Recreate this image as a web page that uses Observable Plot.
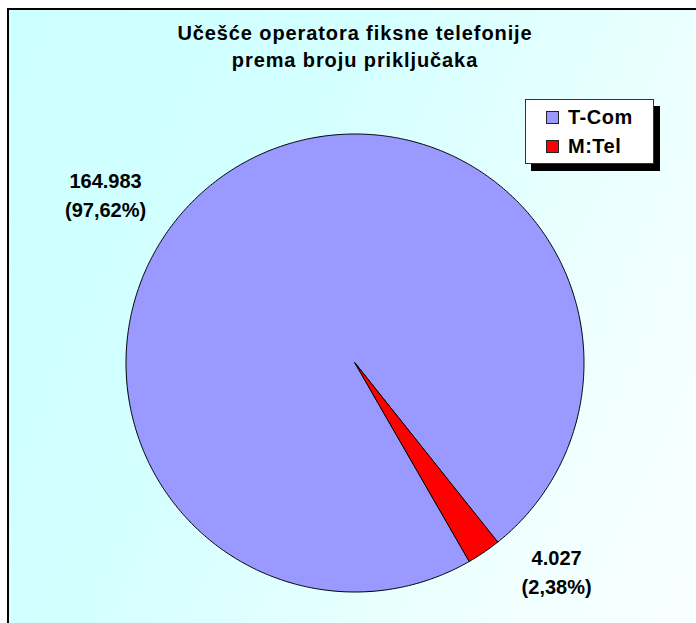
<!DOCTYPE html>
<html><head><meta charset="utf-8">
<script src="https://cdn.jsdelivr.net/npm/d3@7"></script>
<script src="https://cdn.jsdelivr.net/npm/@observablehq/plot@0.6"></script>
<style>
html,body{margin:0;padding:0;background:#fff;}
body{width:696px;height:623px;overflow:hidden;position:relative;font-family:"Liberation Sans",Arial,sans-serif;}
#frame{position:absolute;left:7px;top:8px;width:720px;height:640px;border:2px solid #000;
  background:linear-gradient(115deg,#ccffff 0%,#d4ffff 35%,#f0ffff 75%,#fbffff 100%);}
#chart{position:absolute;left:0;top:0;}
#title{position:absolute;left:0;top:20px;width:710px;text-align:center;font-weight:bold;font-size:20px;line-height:27px;letter-spacing:0.9px;color:#000;}
#legend{position:absolute;left:525px;top:99px;width:127px;height:63px;background:#fff;border:1px solid #333;box-shadow:6px 7px 0 #000;}
.row{position:absolute;left:20px;height:24px;display:flex;align-items:center;font-weight:bold;font-size:20px;letter-spacing:0.5px;}
.sw{width:11px;height:11px;border:1px solid #222;margin-right:9px;}
</style></head>
<body>
<div id="frame"></div>
<div id="chart"></div>
<div id="title">Učešće operatora fiksne telefonije<br>prema broju priključaka</div>
<div id="legend"></div>
<script>
const operators = ["T-Com", "M:Tel"];
const connections = [164983, 4027];
const sliceColors = ["#9999FF", "#FF0000"];

// layout constants
const W = 696, H = 623, cx = 354.5, cy = 362.5, R = 229;
const firstSliceAngle = 150; // degrees, clockwise from 12 o'clock
const labelPlacement = {"T-Com": {angle: 304.2, dist: 1.317}, "M:Tel": {angle: 135.8, dist: 1.263}};

const loc = d3.formatLocale({decimal: ",", thousands: ".", grouping: [3], currency: ["", ""]});
const fmtNum = loc.format(",d");
const fmtPct = loc.format(".2f");

const total = d3.sum(connections);
let acc = firstSliceAngle;
const slices = operators.map((name, i) => {
  const span = connections[i] / total * 360;
  const s = {name, value: connections[i], a0: acc, a1: acc + span};
  acc += span;
  return s;
});
const rad = d => d * Math.PI / 180;
const points = [];
for (const s of slices) {
  points.push({name: s.name, x: 0, y: 0});
  const n = Math.max(2, Math.ceil((s.a1 - s.a0) / 0.5));
  for (let k = 0; k <= n; k++) {
    const a = rad(s.a0 + (s.a1 - s.a0) * k / n);
    points.push({name: s.name, x: Math.sin(a), y: Math.cos(a)});
  }
}
const labels = slices.map(s => {
  const p = labelPlacement[s.name];
  return {
    name: s.name,
    x: p.dist * Math.sin(rad(p.angle)),
    y: p.dist * Math.cos(rad(p.angle)),
    text: `${fmtNum(s.value)}\n(${fmtPct(s.value / total * 100)}%)`
  };
});

const chart = Plot.plot({
  width: W, height: H,
  margin: 0,
  style: {background: "transparent", fontFamily: "'Liberation Sans', Arial, sans-serif", overflow: "visible"},
  x: {domain: [-cx / R, (W - cx) / R], axis: null},
  y: {domain: [-(H - cy) / R, cy / R], axis: null},
  color: {domain: operators, range: sliceColors},
  marks: [
    Plot.line(points, {x: "x", y: "y", z: "name", fill: "name", stroke: "#000", strokeWidth: 1, curve: "linear-closed"}),
    Plot.text(labels, {x: "x", y: "y", text: "text", fontSize: 20, fontWeight: "bold", fill: "#000", lineHeight: 1.42})
  ]
});
document.getElementById("chart").appendChild(chart);

const legend = document.getElementById("legend");
operators.forEach((name, i) => {
  const row = document.createElement("div");
  row.className = "row";
  row.style.top = (5 + i * 29) + "px";
  const sw = document.createElement("span");
  sw.className = "sw";
  sw.style.background = sliceColors[i];
  row.appendChild(sw);
  row.appendChild(document.createTextNode(name));
  legend.appendChild(row);
});
</script>
</body></html>
